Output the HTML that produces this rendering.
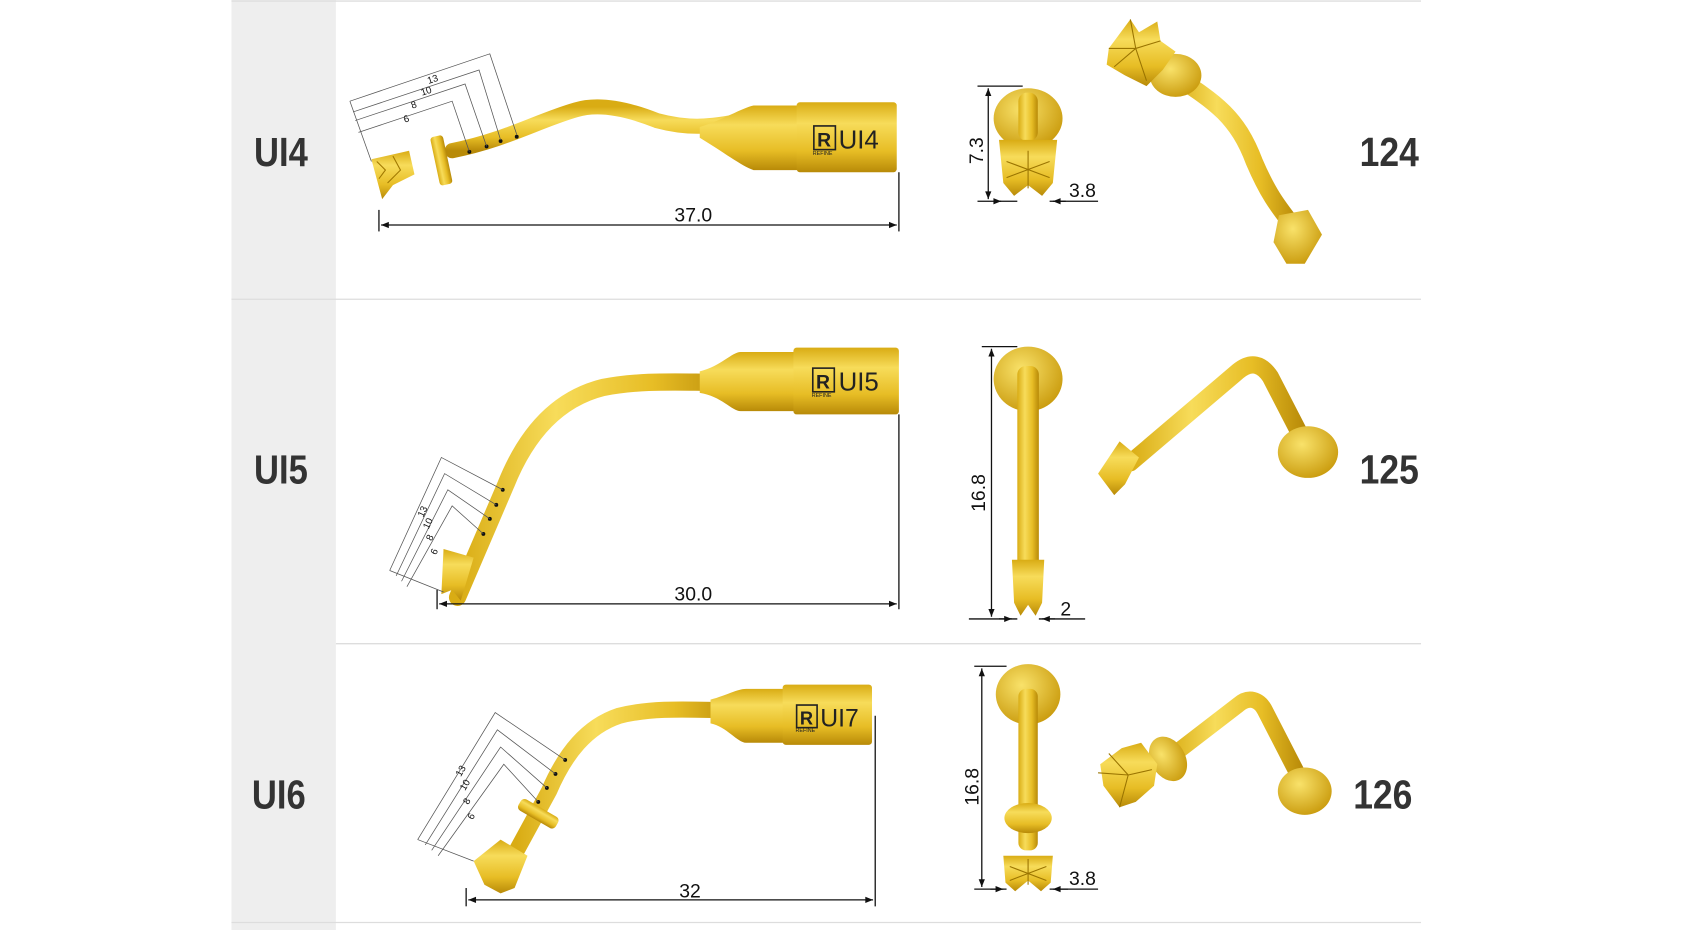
<!DOCTYPE html>
<html><head><meta charset="utf-8"><style>
html,body{margin:0;padding:0;background:#fff;}
svg{display:block;}
.lab{font-family:"Liberation Sans",sans-serif;font-weight:bold;font-size:38px;fill:#333;}
.dim{font-family:"Liberation Sans",sans-serif;font-size:18px;fill:#111;}
.sm{font-family:"Liberation Sans",sans-serif;font-size:9px;fill:#111;}
.ln{stroke:#111;stroke-width:1.2;fill:none;}
.th{stroke:#555;stroke-width:0.7;fill:none;}
</style></head><body>
<svg width="1688" height="930" viewBox="0 0 1568 864" preserveAspectRatio="none">
<defs>
<linearGradient id="gv" x1="0" y1="0" x2="0" y2="1"><stop offset="0" stop-color="#d9ac14"/><stop offset=".3" stop-color="#f7dc5a"/><stop offset=".7" stop-color="#e7bd25"/><stop offset="1" stop-color="#b88a08"/></linearGradient>
<linearGradient id="gh" x1="0" y1="0" x2="1" y2="0"><stop offset="0" stop-color="#d9ac14"/><stop offset=".35" stop-color="#f7dc5a"/><stop offset=".7" stop-color="#e7bd25"/><stop offset="1" stop-color="#b88a08"/></linearGradient>
<radialGradient id="gr" cx=".4" cy=".35" r=".7"><stop offset="0" stop-color="#f9e26a"/><stop offset="1" stop-color="#c99a0c"/></radialGradient>
<marker id="a" viewBox="0 0 10 10" refX="10" refY="5" markerWidth="8" markerHeight="6" orient="auto-start-reverse"><path d="M0,1 L10,5 L0,9z" fill="#111"/></marker>
</defs>
<rect x="215" y="0" width="97" height="864" fill="#eeeeee"/>
<g stroke="#ddd" stroke-width="1.2">
<line x1="215" y1="1" x2="1320" y2="1"/>
<line x1="215" y1="278" x2="1320" y2="278"/>
<line x1="312" y1="598" x2="1320" y2="598"/>
<line x1="215" y1="857" x2="1320" y2="857"/>
</g>
<text class="lab" x="236" y="154" textLength="50" lengthAdjust="spacingAndGlyphs">UI4</text>
<text class="lab" x="236" y="449" textLength="50" lengthAdjust="spacingAndGlyphs">UI5</text>
<text class="lab" x="234" y="751" textLength="50" lengthAdjust="spacingAndGlyphs">UI6</text>
<text class="lab" x="1263" y="154" textLength="55" lengthAdjust="spacingAndGlyphs">124</text>
<text class="lab" x="1263" y="449" textLength="55" lengthAdjust="spacingAndGlyphs">125</text>
<text class="lab" x="1257" y="751" textLength="55" lengthAdjust="spacingAndGlyphs">126</text>

<!-- Row 1 main -->
<path d="M690,112 C660,118 640,120 610,112 C580,100 555,96 535,102 C500,112 470,130 420,140" stroke="url(#gv)" stroke-width="14" fill="none" stroke-linecap="round"/>
<path d="M650,118 C670,112 690,100 700,98 L745,98 L745,158 L700,158 C690,155 670,140 650,128z" fill="url(#gv)"/>
<rect x="740" y="95" width="93" height="65" rx="3" fill="url(#gv)"/>
<rect x="756" y="117" width="20" height="22" fill="none" stroke="#222" stroke-width="1.5"/>
<text x="759" y="136" style="font:bold 18px 'Liberation Sans',sans-serif" fill="#222">R</text>
<text x="779" y="138" style="font:24px 'Liberation Sans',sans-serif" fill="#222">UI4</text>
<text x="755" y="144" style="font:5px 'Liberation Sans',sans-serif" fill="#222">REFINE</text>
<rect x="404" y="126" width="12" height="46" rx="3" fill="url(#gh)" transform="rotate(-12 410 149)"/>
<path d="M345,148 L380,140 L385,162 L365,172 L355,185z" fill="url(#gv)"/>
<path d="M350,150 L358,158 L352,166 M365,145 L372,158 L360,170" stroke="#a07800" stroke-width="1" fill="none"/>
<g fill="#111"><circle cx="436" cy="141" r="1.8"/><circle cx="452" cy="136" r="1.8"/><circle cx="465" cy="131" r="1.8"/><circle cx="480" cy="127" r="1.8"/></g>
<g class="th"><path d="M325,94 L455,50 L480,125"/><path d="M328,104 L445,65 L465,130"/><path d="M330,112 L432,78 L452,136"/><path d="M333,123 L420,94 L436,141"/><path d="M325,94 L345,150"/></g>
<text class="sm" x="398" y="78" transform="rotate(-18 398 78)">13</text>
<text class="sm" x="392" y="89" transform="rotate(-18 392 89)">10</text>
<text class="sm" x="383" y="101" transform="rotate(-18 383 101)">8</text>
<text class="sm" x="376" y="114" transform="rotate(-18 376 114)">6</text>
<line class="ln" x1="352" y1="195" x2="352" y2="215"/><line class="ln" x1="835" y1="160" x2="835" y2="215"/>
<line class="ln" x1="354" y1="209" x2="833" y2="209" marker-start="url(#a)" marker-end="url(#a)"/>
<text class="dim" x="644" y="206" text-anchor="middle">37.0</text>
<!-- Row1 front -->
<ellipse cx="955" cy="110" rx="32" ry="28" fill="url(#gr)"/>
<rect x="946" y="86" width="18" height="45" rx="8" fill="url(#gh)"/>
<path d="M928,130 L982,130 L978,170 L968,182 L955,172 L942,182 L932,170z" fill="url(#gv)"/>
<path d="M955,140 L955,175 M935,150 L975,165 M975,150 L935,165" stroke="#9a7400" stroke-width="1"/>
<line class="ln" x1="908" y1="80" x2="950" y2="80"/><line class="ln" x1="918" y1="82" x2="918" y2="185" marker-start="url(#a)" marker-end="url(#a)"/>
<line class="ln" x1="908" y1="187" x2="945" y2="187"/><line class="ln" x1="975" y1="187" x2="1020" y2="187"/>
<line class="ln" x1="925" y1="187" x2="930" y2="187" marker-end="url(#a)"/><line class="ln" x1="990" y1="187" x2="978" y2="187" marker-end="url(#a)"/>
<text class="dim" x="913" y="140" text-anchor="middle" transform="rotate(-90 913 140)">7.3</text>
<text class="dim" x="993" y="183">3.8</text>
<!-- Row1 iso -->
<path d="M1090,70 C1130,95 1150,110 1165,150 C1180,185 1190,195 1205,215" stroke="url(#gh)" stroke-width="16" fill="none" stroke-linecap="round"/>
<ellipse cx="1092" cy="70" rx="24" ry="20" fill="url(#gr)"/>
<path d="M1030,45 L1050,18 L1058,30 L1075,20 L1078,38 L1092,48 L1080,65 L1065,80 L1045,70 L1028,60z" fill="url(#gv)"/>
<path d="M1055,45 L1050,18 M1055,45 L1030,45 M1055,45 L1078,38 M1055,45 L1065,75 M1055,45 L1035,62" stroke="#9a7400" stroke-width="1"/>
<path d="M1188,200 L1215,195 L1228,218 L1212,245 L1195,245 L1183,225z" fill="url(#gr)"/>

<!-- Row 2 main -->
<path d="M685,355 C640,356 600,352 560,360 C520,370 490,400 470,450 L425,555" stroke="url(#gh)" stroke-width="16" fill="none" stroke-linecap="round"/>
<path d="M650,345 C670,340 680,327 688,327 L740,327 L740,382 L688,382 C680,382 670,368 650,365z" fill="url(#gv)"/>
<rect x="737" y="323" width="98" height="62" rx="3" fill="url(#gv)"/>
<rect x="755" y="342" width="20" height="22" fill="none" stroke="#222" stroke-width="1.5"/>
<text x="758" y="361" style="font:bold 18px 'Liberation Sans',sans-serif" fill="#222">R</text>
<text x="779" y="363" style="font:24px 'Liberation Sans',sans-serif" fill="#222">UI5</text>
<text x="754" y="369" style="font:5px 'Liberation Sans',sans-serif" fill="#222">REFINE</text>
<path d="M412,510 L440,518 L428,558 L420,548 L410,552z" fill="url(#gv)"/>
<g fill="#111"><circle cx="467" cy="455" r="1.8"/><circle cx="461" cy="469" r="1.8"/><circle cx="455" cy="482" r="1.8"/><circle cx="449" cy="496" r="1.8"/></g>
<g class="th"><path d="M362,530 L410,425 L467,455"/><path d="M368,535 L413,440 L461,469"/><path d="M373,540 L416,455 L455,482"/><path d="M378,545 L420,470 L449,496"/><path d="M362,530 L412,550"/></g>
<text class="sm" x="393" y="481" transform="rotate(-65 393 481)">13</text>
<text class="sm" x="398" y="492" transform="rotate(-65 398 492)">10</text>
<text class="sm" x="401" y="503" transform="rotate(-65 401 503)">8</text>
<text class="sm" x="405" y="516" transform="rotate(-65 405 516)">6</text>
<line class="ln" x1="406" y1="548" x2="406" y2="566"/><line class="ln" x1="835" y1="385" x2="835" y2="566"/>
<line class="ln" x1="408" y1="561" x2="833" y2="561" marker-start="url(#a)" marker-end="url(#a)"/>
<text class="dim" x="644" y="558" text-anchor="middle">30.0</text>
<!-- Row2 front -->
<ellipse cx="955" cy="352" rx="32" ry="30" fill="url(#gr)"/>
<rect x="945" y="340" width="20" height="190" rx="8" fill="url(#gh)"/>
<path d="M940,520 L970,520 L968,560 L962,572 L955,562 L948,572 L942,560z" fill="url(#gv)"/>
<line class="ln" x1="912" y1="322" x2="945" y2="322"/><line class="ln" x1="921" y1="324" x2="921" y2="573" marker-start="url(#a)" marker-end="url(#a)"/>
<line class="ln" x1="900" y1="575" x2="945" y2="575"/><line class="ln" x1="965" y1="575" x2="1008" y2="575"/>
<line class="ln" x1="928" y1="575" x2="940" y2="575" marker-end="url(#a)"/><line class="ln" x1="980" y1="575" x2="968" y2="575" marker-end="url(#a)"/>
<text class="dim" x="915" y="458" text-anchor="middle" transform="rotate(-90 915 458)">16.8</text>
<text class="dim" x="985" y="572">2</text>
<!-- Row2 iso -->
<path d="M1050,430 L1150,345 C1162,335 1172,338 1180,350 L1212,412" stroke="url(#gh)" stroke-width="16" fill="none" stroke-linecap="round"/>
<path d="M1020,440 L1040,410 L1058,425 L1045,450 L1035,460z" fill="url(#gv)"/>
<ellipse cx="1215" cy="420" rx="28" ry="24" fill="url(#gr)"/>

<!-- Row 3 main -->
<path d="M690,660 C650,660 610,656 575,665 C545,675 525,700 510,735 L480,790" stroke="url(#gh)" stroke-width="15" fill="none" stroke-linecap="round"/>
<path d="M660,650 C675,646 685,640 693,640 L730,640 L730,690 L693,690 C685,690 675,675 660,672z" fill="url(#gv)"/>
<rect x="727" y="636" width="83" height="56" rx="3" fill="url(#gv)"/>
<rect x="740" y="655" width="19" height="21" fill="none" stroke="#222" stroke-width="1.5"/>
<text x="743" y="673" style="font:bold 17px 'Liberation Sans',sans-serif" fill="#222">R</text>
<text x="762" y="675" style="font:23px 'Liberation Sans',sans-serif" fill="#222">UI7</text>
<text x="739" y="680" style="font:5px 'Liberation Sans',sans-serif" fill="#222">REFINE</text>
<rect x="480" y="750" width="40" height="12" rx="4" fill="url(#gv)" transform="rotate(30 500 756)"/>
<path d="M440,800 L465,780 L490,795 L478,825 L465,830 L450,822z" fill="url(#gv)"/>
<g fill="#111"><circle cx="525" cy="706" r="1.8"/><circle cx="516" cy="719" r="1.8"/><circle cx="508" cy="732" r="1.8"/><circle cx="500" cy="745" r="1.8"/></g>
<g class="th"><path d="M388,780 L460,662 L525,706"/><path d="M395,785 L462,678 L516,719"/><path d="M401,790 L465,694 L508,732"/><path d="M407,795 L468,710 L500,745"/><path d="M388,780 L440,800"/></g>
<text class="sm" x="428" y="722" transform="rotate(-60 428 722)">13</text>
<text class="sm" x="432" y="735" transform="rotate(-60 432 735)">10</text>
<text class="sm" x="435" y="748" transform="rotate(-60 435 748)">8</text>
<text class="sm" x="439" y="762" transform="rotate(-60 439 762)">6</text>
<line class="ln" x1="433" y1="825" x2="433" y2="842"/><line class="ln" x1="813" y1="665" x2="813" y2="842"/>
<line class="ln" x1="435" y1="836" x2="811" y2="836" marker-start="url(#a)" marker-end="url(#a)"/>
<text class="dim" x="641" y="834" text-anchor="middle">32</text>
<!-- Row3 front -->
<ellipse cx="955" cy="645" rx="30" ry="28" fill="url(#gr)"/>
<rect x="946" y="640" width="18" height="150" rx="7" fill="url(#gh)"/>
<ellipse cx="955" cy="760" rx="22" ry="14" fill="url(#gv)"/>
<path d="M932,795 L978,795 L976,820 L967,828 L955,818 L943,828 L934,820z" fill="url(#gv)"/>
<path d="M955,798 L955,822 M938,805 L972,818 M972,805 L938,818" stroke="#9a7400" stroke-width="1"/>
<line class="ln" x1="905" y1="619" x2="935" y2="619"/><line class="ln" x1="912" y1="621" x2="912" y2="824" marker-start="url(#a)" marker-end="url(#a)"/>
<line class="ln" x1="905" y1="826" x2="935" y2="826"/><line class="ln" x1="975" y1="826" x2="1020" y2="826"/>
<line class="ln" x1="920" y1="826" x2="932" y2="826" marker-end="url(#a)"/><line class="ln" x1="992" y1="826" x2="978" y2="826" marker-end="url(#a)"/>
<text class="dim" x="909" y="731" text-anchor="middle" transform="rotate(-90 909 731)">16.8</text>
<text class="dim" x="993" y="822">3.8</text>
<!-- Row3 iso -->
<path d="M1085,705 L1150,655 C1160,646 1170,650 1175,660 L1210,728" stroke="url(#gh)" stroke-width="15" fill="none" stroke-linecap="round"/>
<ellipse cx="1085" cy="705" rx="16" ry="22" fill="url(#gr)" transform="rotate(-30 1085 705)"/>
<path d="M1022,710 L1042,695 L1060,690 L1075,710 L1072,730 L1055,745 L1040,750 L1025,730z" fill="url(#gv)"/>
<path d="M1048,720 L1030,700 M1048,720 L1020,718 M1048,720 L1040,750 M1048,720 L1070,715" stroke="#9a7400" stroke-width="1"/>
<ellipse cx="1212" cy="735" rx="25" ry="22" fill="url(#gr)"/>
</svg>
</body></html>
